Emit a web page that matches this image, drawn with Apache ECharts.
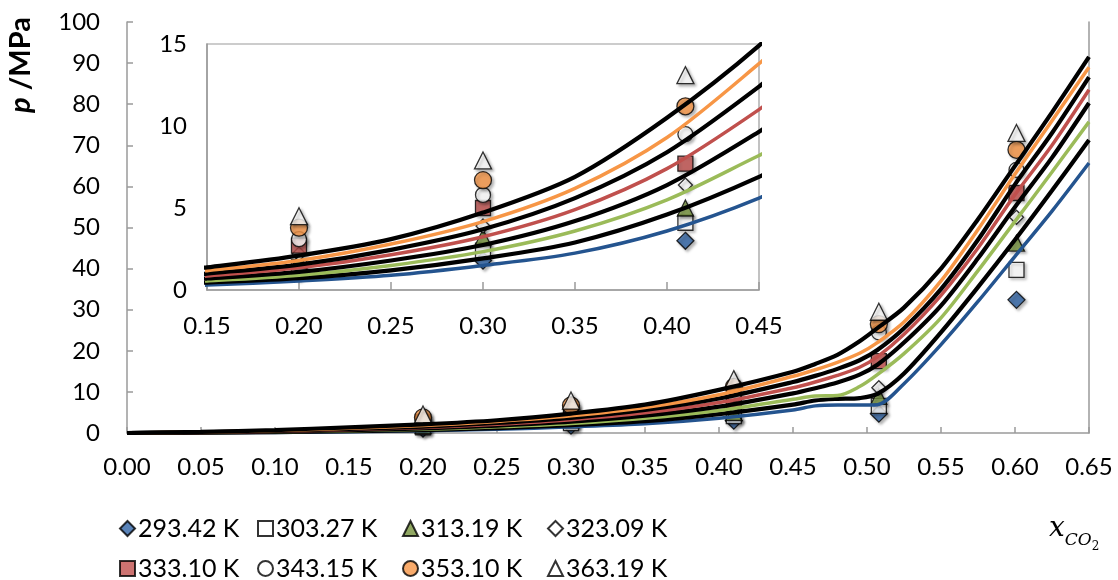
<!DOCTYPE html>
<html>
<head>
<meta charset="utf-8">
<script src="https://cdn.jsdelivr.net/npm/echarts@6/dist/echarts.min.js"></script>
<style>
html,body{margin:0;padding:0;background:#fff;}
#c{width:1118px;height:580px;}
</style>
</head>
<body>
<div id="c"></div>
<script>
// ---------- DATA ----------
const tempLabels = ['293.42 K','303.27 K','313.19 K','323.09 K','333.10 K','343.15 K','353.10 K','363.19 K'];

// experimental points
const xExp = [0.20, 0.30, 0.41, 0.508, 0.601];
const pExp293 = [1.1, 1.8, 3.0, 4.7, 32.4];
const pExp303 = [1.4, 2.4, 4.1, 6.6, 39.7];
const pExp313 = [1.8, 3.2, 5.0, 8.9, 46.2];
const pExp323 = [2.2, 3.9, 6.4, 11.0, 52.5];
const pExp333 = [2.7, 5.0, 7.7, 17.5, 58.4];
const pExp343 = [3.1, 5.8, 9.5, 24.5, 64.0];
const pExp353 = [3.8, 6.7, 11.2, 26.5, 68.9];
const pExp363 = [4.5, 7.9, 13.1, 29.5, 73.0];

// model curves
const xCalc = [0, 0.05, 0.10, 0.15, 0.20, 0.25, 0.30, 0.35, 0.40, 0.45, 0.465, 0.48, 0.495, 0.507, 0.525, 0.55, 0.575, 0.60, 0.625, 0.65];
const pCalc293 = [0, 0.05, 0.15, 0.30, 0.55, 0.90, 1.50, 2.25, 3.6, 5.6, 6.6, 6.8, 6.8, 6.9, 12.0, 21.5, 32.0, 43.0, 54.0, 65.7];
const pCalc303 = [0, 0.08, 0.22, 0.45, 0.72, 1.20, 1.93, 2.90, 4.6, 6.9, 7.9, 8.3, 8.5, 9.5, 14.5, 24.5, 35.5, 47.0, 59.0, 71.3];
const pCalc313 = [0, 0.10, 0.28, 0.55, 0.90, 1.50, 2.34, 3.60, 5.5, 8.2, 9.0, 9.1, 11.3, 14.2, 19.3, 28.0, 39.5, 51.5, 63.5, 75.7];
const pCalc323 = [0, 0.12, 0.35, 0.70, 1.10, 1.80, 2.74, 4.20, 6.4, 9.65, 10.9, 12.3, 14.2, 16.6, 22.0, 31.0, 42.5, 55.0, 67.0, 80.3];
const pCalc333 = [0, 0.15, 0.42, 0.85, 1.35, 2.15, 3.25, 4.90, 7.4, 11.0, 12.4, 14.0, 16.0, 18.5, 24.0, 33.5, 45.0, 58.0, 70.0, 83.5];
const pCalc343 = [0, 0.18, 0.50, 1.00, 1.55, 2.45, 3.70, 5.60, 8.4, 12.4, 13.9, 15.6, 17.7, 20.2, 25.5, 35.0, 47.0, 60.5, 73.0, 86.6];
const pCalc353 = [0, 0.22, 0.60, 1.18, 1.80, 2.80, 4.17, 6.20, 9.3, 13.8, 15.4, 17.2, 19.4, 22.0, 27.0, 37.0, 49.5, 63.0, 76.0, 89.0];
const pCalc363 = [0, 0.28, 0.72, 1.38, 2.10, 3.10, 4.72, 6.90, 10.5, 14.9, 16.8, 19.0, 22.3, 25.5, 30.5, 40.0, 52.0, 65.0, 78.0, 91.5];

const mainXTicks = [0, 0.65, 0.05];
const mainYTicks = [0, 100, 10];
const insetXTicks = [0.15, 0.45, 0.05];
const insetYTicks = [0, 15, 5];

// ---------- STYLE ----------
const expSeriesValues = [pExp293,pExp303,pExp313,pExp323,pExp333,pExp343,pExp353,pExp363];
const calcSeriesValues = [pCalc293,pCalc303,pCalc313,pCalc323,pCalc333,pCalc343,pCalc353,pCalc363];
const symbols = ['diamond','rect','triangle','diamond','rect','circle','circle','triangle'];
const fills = ['#2f64a6','#ffffff','#76923c','#ffffff','#c0504d','#ffffff','#f79646','#ffffff'];
const symSizes = [17,15,16,14,15,15,17,17];
const lineColors = ['#24548f','#000000','#9bbb59','#000000','#c0504d','#000000','#f79646','#000000'];
const lineWidths = [3.5,4.2,3.5,4.2,3.5,4.2,3.5,4.2];
const FONT = 'Lato';
const FS = 24;
const LFS = 25;
const AXIS_GRAY = '#9a9a9a';
const legendLefts = [114, 252, 397, 542];
const legendTops = [511, 551];

function pairs(xs, ys){ return xs.map((x,i)=>[x, ys[i]]); }

const series = [];
[0,1].forEach(g=>{
  expSeriesValues.forEach((vals,i)=>{
    series.push({
      type:'scatter', name: tempLabels[i], xAxisIndex:g, yAxisIndex:g,
      symbol: symbols[i], symbolSize: symSizes[i],
      data: pairs(xExp, vals),
      clip: true,
      itemStyle:{color: fills[i], borderColor:'#000', borderWidth:1.3,
        shadowBlur:3, shadowOffsetX:2, shadowOffsetY:2, shadowColor:'rgba(0,0,0,0.35)'},
      z: 3
    });
  });
});
[0,1].forEach(g=>{
  calcSeriesValues.forEach((vals,i)=>{
    series.push({
      type:'line', name: 'calc '+tempLabels[i], xAxisIndex:g, yAxisIndex:g,
      data: pairs(xCalc, vals), showSymbol:false, smooth:0.3,
      clip:true, silent:true,
      lineStyle:{color: lineColors[i], width: lineWidths[i]},
      z: 4
    });
  });
});

const legends = tempLabels.map((name,i)=>({
  top: legendTops[Math.floor(i/4)], left: legendLefts[i%4],
  itemWidth: 15, itemHeight: 15,
  data: [{name: name, icon: symbols[i]}],
  textStyle:{fontFamily:FONT, fontSize:LFS, color:'#000', padding:[0,0,0,-2]},
  selectedMode:false
}));

const chart = echarts.init(document.getElementById('c'), null, {renderer:'canvas'});
chart.setOption({
  animation:false,
  backgroundColor:'#fff',
  grid:[
    {left:127, top:22, right:29, bottom:147, show:false},
    {left:207, top:44, right:359, bottom:290, show:true, borderColor:AXIS_GRAY, borderWidth:1.2, backgroundColor:'transparent'}
  ],
  xAxis:[
    {type:'value', gridIndex:0, min:mainXTicks[0], max:mainXTicks[1], interval:mainXTicks[2],
     axisLine:{show:true, onZero:false, lineStyle:{color:AXIS_GRAY, width:1.5}},
     axisTick:{show:true, inside:true, length:6, lineStyle:{color:AXIS_GRAY, width:1.5}},
     axisLabel:{fontFamily:FONT, fontSize:FS, color:'#000', margin:22, formatter:v=>v.toFixed(2)},
     splitLine:{show:false}},
    {type:'value', gridIndex:1, min:insetXTicks[0], max:insetXTicks[1], interval:insetXTicks[2],
     axisLine:{show:true, onZero:false, lineStyle:{color:AXIS_GRAY, width:1.5}},
     axisTick:{show:true, inside:true, length:8, lineStyle:{color:AXIS_GRAY, width:1.5}},
     axisLabel:{fontFamily:FONT, fontSize:FS, color:'#000', margin:24, formatter:v=>v.toFixed(2)},
     splitLine:{show:false}},
  ],
  yAxis:[
    {type:'value', gridIndex:0, min:mainYTicks[0], max:mainYTicks[1], interval:mainYTicks[2],
     axisLine:{show:true, lineStyle:{color:AXIS_GRAY, width:1.5}},
     axisTick:{show:true, inside:true, length:6, lineStyle:{color:AXIS_GRAY, width:1.5}},
     axisLabel:{fontFamily:FONT, fontSize:FS, color:'#000', margin:27},
     splitLine:{show:false}},
    {type:'value', gridIndex:1, min:insetYTicks[0], max:insetYTicks[1], interval:insetYTicks[2],
     axisLine:{show:true, lineStyle:{color:AXIS_GRAY, width:1.5}},
     axisTick:{show:false},
     axisLabel:{fontFamily:FONT, fontSize:FS, color:'#000', margin:20},
     splitLine:{show:false}},
    {type:'value', gridIndex:0, position:'right', min:mainYTicks[0], max:mainYTicks[1],
     axisLine:{show:true, lineStyle:{color:AXIS_GRAY, width:1.5}},
     axisTick:{show:false}, axisLabel:{show:false}, splitLine:{show:false}}
  ],
  legend: legends,
  graphic:[
    {type:'text', x:21, y:65, rotation:Math.PI/2,
     style:{text:'{i|p} /MPa', fill:'#000', align:'center', verticalAlign:'middle',
       font:'bold 29px '+FONT,
       rich:{i:{fontStyle:'italic', fontWeight:'bold', fontSize:29, fontFamily:FONT}}}},
    {type:'text', x:1049, y:528,
     style:{text:'{x|x}{c|CO}{n|2}', fill:'#000', verticalAlign:'middle',
       rich:{
         x:{fontFamily:'DejaVu Serif', fontStyle:'italic', fontSize:28, lineHeight:30, verticalAlign:'bottom'},
         c:{fontFamily:'DejaVu Serif', fontStyle:'italic', fontSize:17, lineHeight:17, verticalAlign:'bottom', padding:[0,0,-6,0]},
         n:{fontFamily:'DejaVu Serif', fontSize:12, lineHeight:12, verticalAlign:'bottom', padding:[0,0,-10,0]}
       }}}
  ],
  series: series
});
</script>
</body>
</html>
